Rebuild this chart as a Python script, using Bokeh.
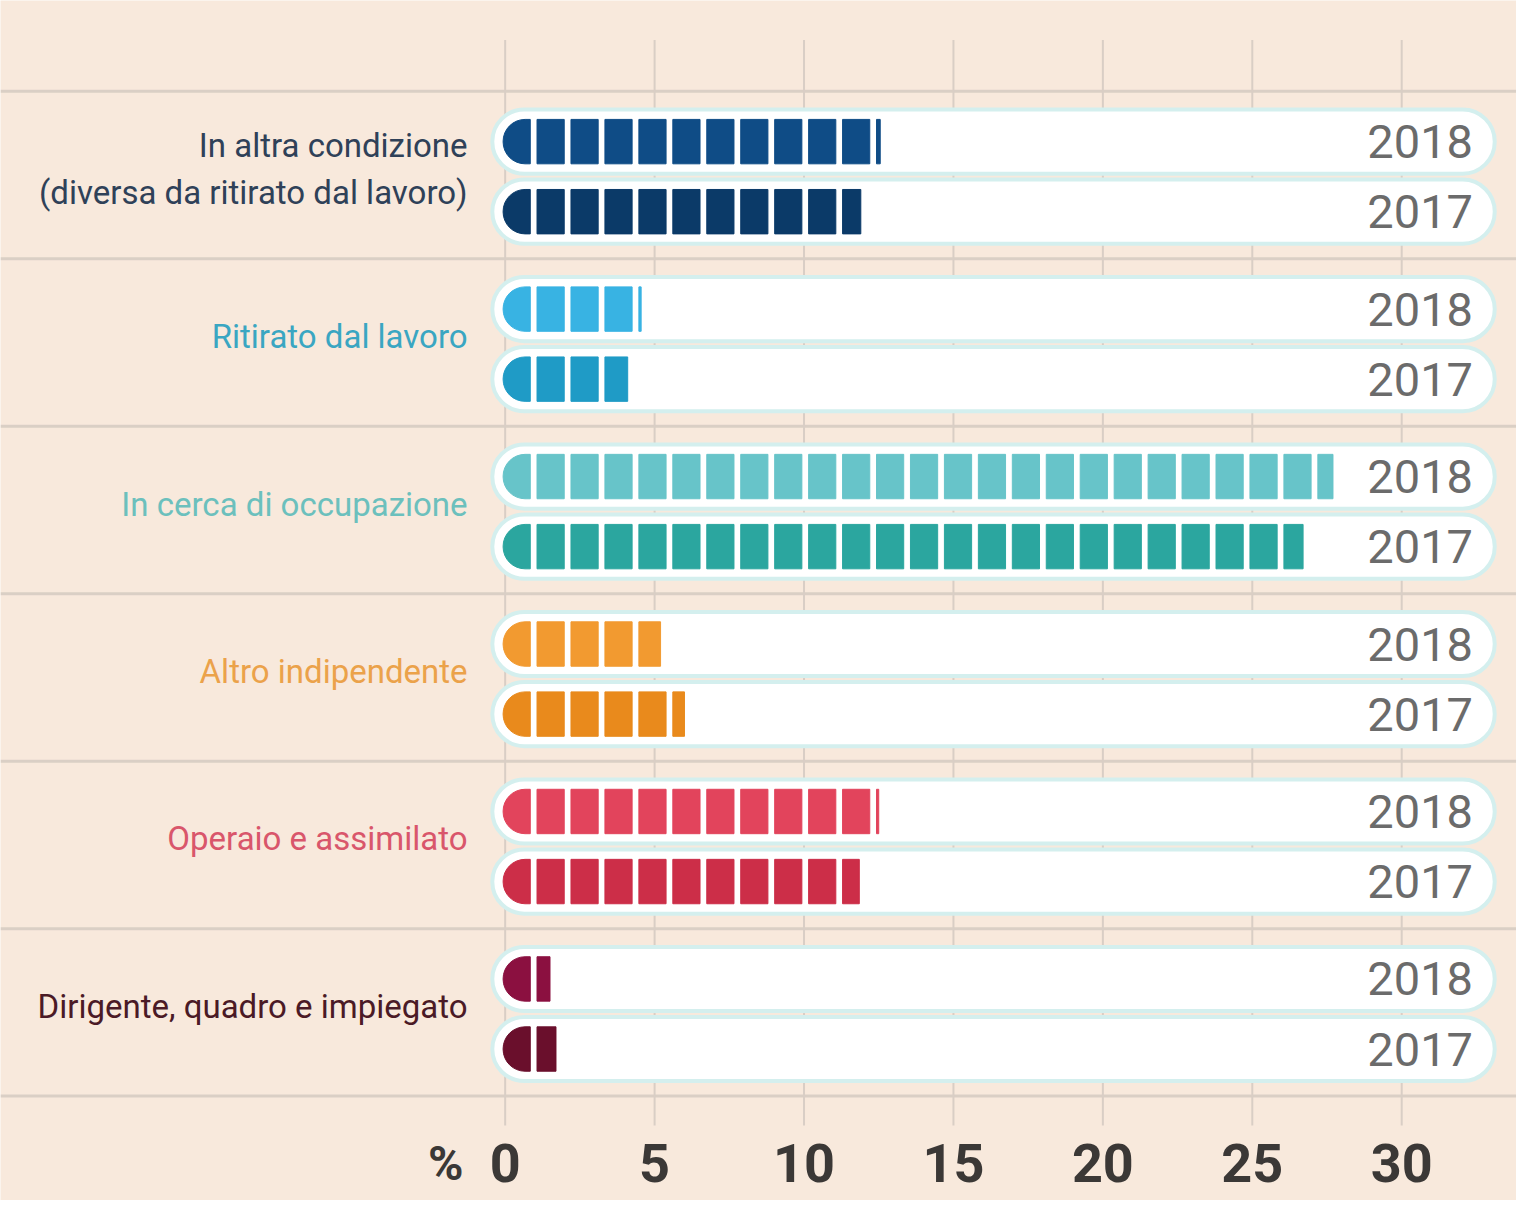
from bokeh.plotting import figure
from bokeh.models import Range1d, Span, ColumnDataSource
from bokeh.core.properties import value
from bokeh.embed import file_html
from bokeh.resources import INLINE

# ---------------- data ----------------
categories = [
    "In altra condizione\n(diversa da ritirato dal lavoro)",
    "Ritirato dal lavoro",
    "In cerca di occupazione",
    "Altro indipendente",
    "Operaio e assimilato",
    "Dirigente, quadro e impiegato",
]
years = ["2018", "2017"]
values_2018 = [12.55, 4.55, 27.7, 5.2, 12.5, 1.5]
values_2017 = [11.9, 4.1, 26.7, 6.0, 11.85, 1.7]
ticks = [0, 5, 10, 15, 20, 25, 30]
tick_labels = ["0", "5", "10", "15", "20", "25", "30"]
unit_label = "%"

# ---------------- styles ----------------
label_colors = ["#2f4158", "#3aa6c2", "#6cc0bd", "#eba24a", "#d9566b", "#4b1a26"]
colors_2018 = ["#0f4c86", "#38b3e3", "#67c4c9", "#f29a30", "#e2445c", "#8b1040"]
colors_2017 = ["#0b3a68", "#1f9bc6", "#2ba69f", "#e98a1c", "#cc2e48", "#6a0f2c"]
BG = "#f8e9dc"
FONT = "Roboto, sans-serif"

W, H = 1516, 1200          # canvas size
REF_W, REF_H = 1532, 1216  # layout coordinates
PX_PER_UNIT = 30.2
X0_REF = 510


def px(ref_x):
    return (ref_x - X0_REF) / PX_PER_UNIT


GROUP_TOP0 = 92
GROUP_H = 169.7
ROW_OFF = {"2018": 51, "2017": 122}
PITCH = 1.136
SEG_W = 0.91
SEG_START = -0.07
BAR_H = 45

p = figure(
    width=W, height=H,
    x_range=Range1d(px(0), px(REF_W)),
    y_range=Range1d(REF_H, 0),
    output_backend="svg", toolbar_location=None,
    x_axis_location=None, y_axis_location=None,
    min_border=0, outline_line_color=None,
    background_fill_color=BG, border_fill_color=BG,
)
p.xgrid.visible = False
p.ygrid.visible = False

# vertical grid lines from tick values
p.segment(x0=ticks, x1=ticks, y0=[40] * len(ticks), y1=[1140] * len(ticks),
          line_color="#d9cec5", line_width=2)

# horizontal separators
for i in range(len(categories) + 1):
    p.add_layout(Span(location=GROUP_TOP0 + i * GROUP_H, dimension="width",
                      line_color="#dacfc5", line_width=3, level="underlay"))

# pills, bars, labels
pill_y = []
cap = dict(y=[], left=[], right=[], color=[])
seg = dict(y=[], left=[], right=[], color=[])
year_y, year_t = [], []
for i in range(len(categories)):
    top = GROUP_TOP0 + i * GROUP_H
    for yr, vals, cols in (("2018", values_2018, colors_2018),
                           ("2017", values_2017, colors_2017)):
        yc = top + ROW_OFF[yr]
        pill_y.append(yc)
        year_y.append(yc)
        year_t.append(yr)
        v = vals[i]
        k = 0
        while True:
            s = SEG_START + k * PITCH
            if s >= v:
                break
            e = min(s + SEG_W, v)
            d = cap if k == 0 else seg
            d["y"].append(yc)
            d["left"].append(s)
            d["right"].append(e)
            d["color"].append(cols[i])
            k += 1

p.hbar(y=pill_y, left=px(497), right=px(1510), height=65,
       fill_color="white", line_color="#d4efee", line_width=4, border_radius=32)
p.hbar(y="y", left="left", right="right", height=BAR_H, color="color",
       source=ColumnDataSource(cap), border_radius=(22, 0, 0, 22))
p.hbar(y="y", left="left", right="right", height=BAR_H, color="color",
       source=ColumnDataSource(seg))

p.text(x=[px(1488)] * len(year_y), y=year_y, text=year_t,
       text_font=value(FONT), text_font_size="47px", text_color="#6b6b6b",
       text_align="right", text_baseline="middle")

group_centers = [GROUP_TOP0 + i * GROUP_H + GROUP_H / 2 - 6 for i in range(len(categories))]
p.text(x=[px(472)] * len(categories), y=group_centers, text=categories,
       text_font=value(FONT), text_font_size="33px", text_color=label_colors,
       text_align="right", text_baseline="middle", text_line_height=1.2)

# x-axis labels from tick values
p.text(x=ticks, y=[1178] * len(ticks), text=tick_labels,
       text_font=value(FONT), text_font_size="54px", text_font_style="bold",
       text_color="#3b3836", text_align="center", text_baseline="middle")
p.text(x=[px(450)], y=[1178], text=[unit_label],
       text_font=value(FONT), text_font_size="48px", text_font_style="bold",
       text_color="#3b3836", text_align="center", text_baseline="middle")

open("out.html", "w").write(file_html(p, INLINE))
